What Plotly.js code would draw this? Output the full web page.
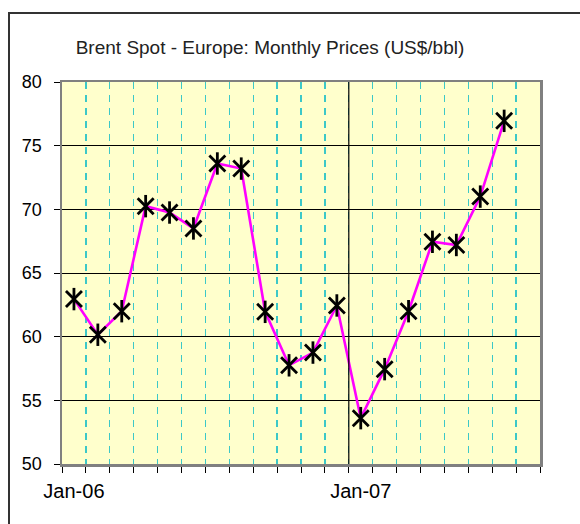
<!DOCTYPE html>
<html>
<head>
<meta charset="utf-8">
<script src="https://cdn.plot.ly/plotly-3.0.1.min.js"></script>
<style>
  html, body { margin: 0; padding: 0; background: #fff; overflow: hidden; }
  #frame { position: absolute; left: 8px; top: 12px; width: 700px; height: 700px;
           border-left: 2px solid #333; border-top: 2px solid #333; box-sizing: border-box; }
  #chart { position: absolute; left: 0; top: 0; width: 580px; height: 524px; }
</style>
</head>
<body>
<div id="frame"></div>
<div id="chart"></div>
<script>
// Months (category order) and Brent spot prices (US$/bbl)
const months = ["Jan-06","Feb-06","Mar-06","Apr-06","May-06","Jun-06","Jul-06","Aug-06","Sep-06","Oct-06","Nov-06","Dec-06",
                "Jan-07","Feb-07","Mar-07","Apr-07","May-07","Jun-07","Jul-07"];
const prices = [62.95, 60.15, 62.0, 70.25, 69.75, 68.5, 73.6, 73.2, 61.95, 57.75, 58.75, 62.45,
                53.6, 57.45, 62.0, 67.45, 67.2, 71.0, 76.95];
// Number of category slots on the axis (one trailing empty slot)
const slotCount = 20;
const tickLabels = ["Jan-06", "Jan-07"];

const xIdx = months.map((m, i) => i);
const labelPos = tickLabels.map(t => months.indexOf(t));
const yearBoundary = months.indexOf("Jan-07") - 0.5;

const font = "Liberation Sans, Arial, sans-serif";

const traces = [
  { x: xIdx, y: prices, type: "scatter", mode: "lines",
    line: { color: "#FF00FF", width: 2.6 }, hoverinfo: "skip" },
  { x: xIdx, y: prices, type: "scatter", mode: "markers",
    marker: { symbol: "x-thin-open", size: 16, color: "#000", line: { color: "#000", width: 2.8 } } },
  { x: xIdx, y: prices, type: "scatter", mode: "markers",
    marker: { symbol: "line-ns-open", size: 16, color: "#000", line: { color: "#000", width: 2.8 } } }
];

const layout = {
  width: 580, height: 524,
  margin: { l: 62, r: 40, t: 82, b: 60, pad: 0 },
  paper_bgcolor: "rgba(0,0,0,0)",
  plot_bgcolor: "#FFFFCC",
  showlegend: false,
  font: { family: font, color: "#000" },
  title: {
    text: "Brent Spot - Europe: Monthly Prices (US$/bbl)",
    font: { family: font, size: 19, color: "#222" },
    xref: "container", yref: "container",
    x: 270 / 580, xanchor: "center",
    y: 1 - 47 / 524, yanchor: "middle"
  },
  xaxis: {
    range: [-0.5, slotCount - 0.5],
    tickmode: "array", tickvals: labelPos, ticktext: tickLabels,
    ticks: "", showgrid: false, zeroline: false,
    showline: true, linecolor: "#808080", linewidth: 2.5, mirror: true,
    tickfont: { family: font, size: 20, color: "#000" },
    ticklabelstandoff: 7,
    minor: { tickmode: "linear", tick0: -0.5, dtick: 1, ticks: "outside", ticklen: 6,
             tickcolor: "#000", tickwidth: 1,
             showgrid: true, gridcolor: "#3CC8C8", gridwidth: 1.3, griddash: "7px,6px" },
    fixedrange: true
  },
  yaxis: {
    range: [50, 80], tickmode: "linear", tick0: 50, dtick: 5,
    ticks: "outside", ticklen: 6, tickcolor: "#000", tickwidth: 1,
    showgrid: true, gridcolor: "#000", gridwidth: 1, zeroline: false,
    showline: true, linecolor: "#808080", linewidth: 2.5, mirror: true,
    tickfont: { family: font, size: 18, color: "#000" },
    ticklabelstandoff: 8,
    fixedrange: true
  },
  shapes: [
    { type: "line", layer: "above", xref: "x", yref: "paper",
      x0: yearBoundary, x1: yearBoundary, y0: 0, y1: 1,
      line: { color: "#000", width: 1.2 } }
  ]
};

Plotly.newPlot("chart", traces, layout, { displayModeBar: false, staticPlot: true });
</script>
</body>
</html>
